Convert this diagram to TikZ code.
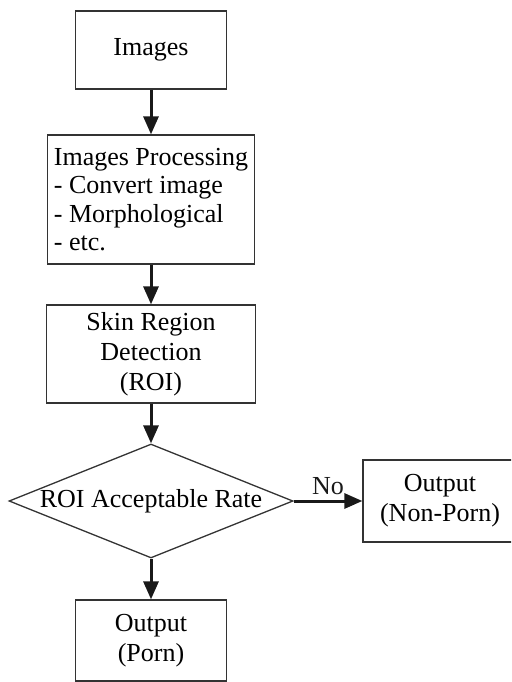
\documentclass[tikz,border=0pt]{standalone}
\usepackage{fontspec}
\setmainfont{Liberation Serif}
\usetikzlibrary{shapes.geometric,arrows.meta}
\begin{document}
\begin{tikzpicture}[x=1pt,y=-1pt,
  font=\fontsize{26}{30}\selectfont,
  boxnode/.style={draw=black!80, line width=1.3pt, rectangle, inner sep=0pt, align=center},
  flow/.style={line width=3pt, black!90, -{Triangle[length=18pt,width=15pt]}}]
\useasboundingbox (0,0) rectangle (511,682);
\clip (0,0) rectangle (511,682);
\node[boxnode, minimum width=151pt, minimum height=78pt] (img) at (151,50) {Images};
\node[boxnode, minimum width=207pt, minimum height=129pt, align=left,
  font=\fontsize{26}{28.5}\selectfont] (ip) at (151,199.5)
  {Images Processing\\- Convert image\\- Morphological\\- etc.};
\node[boxnode, minimum width=209pt, minimum height=98pt] (skin) at (151,354)
  {Skin Region\\Detection\\(ROI)};
\node[diamond, draw=black!80, line width=1.3pt, inner sep=0pt,
  minimum width=284pt, minimum height=114pt] (dia) at (151,501) {};
\node[inner sep=0pt] (diatext) at (dia.center) {ROI Acceptable Rate};
\node[boxnode, minimum width=154pt, minimum height=82pt] (non) at (440,501)
  {Output\\(Non-Porn)};
\node[boxnode, minimum width=151pt, minimum height=81pt] (porn) at (151,640.5)
  {Output\\(Porn)};
\draw[flow] (img.south) -- (ip.north);
\draw[flow] (ip.south) -- (skin.north);
\draw[flow] (skin.south) -- (dia.north);
\draw[flow] (dia.east) -- node[above, inner sep=5pt] (no) {No} (non.west);
\draw[flow] (dia.south) -- (porn.north);
\end{tikzpicture}
\end{document}
